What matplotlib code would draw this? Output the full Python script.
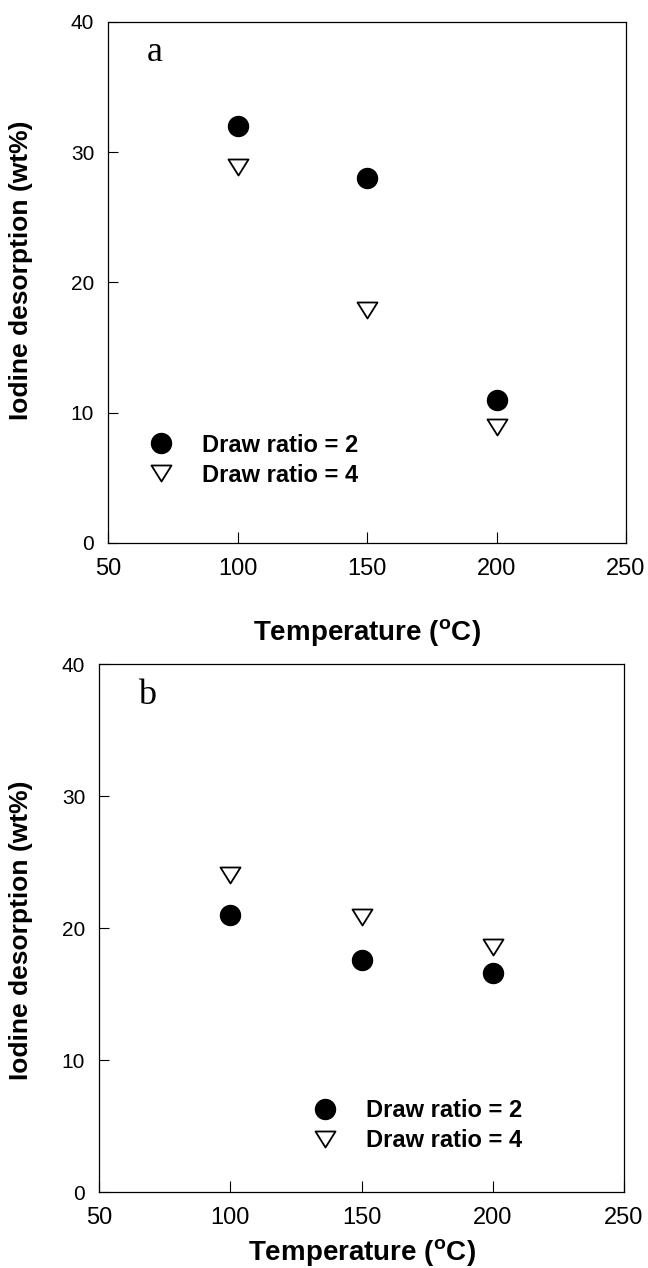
import matplotlib.pyplot as plt
from matplotlib.path import Path
import numpy as np

plt.rcParams['font.family'] = ['Liberation Sans', 'DejaVu Sans']
plt.rcParams['mathtext.fontset'] = 'custom'
plt.rcParams['mathtext.rm'] = 'Liberation Sans'
plt.rcParams['mathtext.bf'] = 'Liberation Sans:bold'

# data
temps = [100, 150, 200]
a_ratio2 = [32.0, 28.0, 11.0]
a_ratio4 = [28.9, 17.9, 8.9]
b_ratio2 = [21.0, 17.6, 16.6]
b_ratio4 = [24.0, 20.8, 18.6]
labels = ['Draw ratio = 2', 'Draw ratio = 4']

tri = Path([(-1, 0.8), (1, 0.8), (0, -0.8), (-1, 0.8)],
           [Path.MOVETO, Path.LINETO, Path.LINETO, Path.CLOSEPOLY])

fig = plt.figure(figsize=(6.48, 12.68), dpi=100)
ax1 = fig.add_axes([0.1667, 0.5718, 0.7994, 0.4109])
ax2 = fig.add_axes([0.1528, 0.0599, 0.8102, 0.4164])

panels = [
    (ax1, a_ratio2, a_ratio4, 'a', (0.075, 0.159), 27, (-0.145, 0.524)),
    (ax2, b_ratio2, b_ratio4, 'b', (0.404, 0.126), 6, (-0.126, 0.496)),
]

for ax, r2, r4, tag, legpos, xlpad, ylpos in panels:
    ax.plot(temps, r2, linestyle='none', marker='o', ms=14.4,
            color='black', label=labels[0])
    ax.plot(temps, r4, linestyle='none', marker=tri, ms=14.4,
            markerfacecolor='white', markeredgecolor='black',
            markeredgewidth=1.3, label=labels[1])

    ax.set_xlim(50, 250)
    ax.set_ylim(0, 40)
    ax.set_xticks([50, 100, 150, 200, 250])
    ax.set_yticks([0, 10, 20, 30, 40])
    ax.tick_params(axis='x', direction='in', length=8, width=0.8,
                   labelsize=17, pad=11)
    ax.tick_params(axis='y', direction='in', length=7, width=0.8,
                   labelsize=15, pad=10)
    for s in ax.spines.values():
        s.set_linewidth(0.9)

    ax.set_xlabel(r'Temperature ($^{\mathregular{o}}$C)', fontsize=20,
                  fontweight='bold', labelpad=xlpad)
    ax.set_ylabel('Iodine desorption (wt%)', fontsize=19, fontweight='bold')
    ax.yaxis.set_label_coords(*ylpos)

    ax.text(0.075, 0.925, tag, transform=ax.transAxes, fontsize=26,
            family='Liberation Serif', va='baseline', ha='left')

    ax.legend(loc='center left', bbox_to_anchor=legpos, frameon=False,
              borderpad=0, handlelength=1.2, handletextpad=1.14,
              labelspacing=0.3, borderaxespad=0,
              prop={'size': 17, 'weight': 'bold'})

fig.savefig('out.png', dpi=100)
